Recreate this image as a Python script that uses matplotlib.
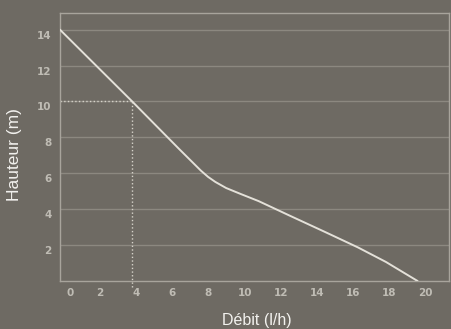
import matplotlib
matplotlib.use('Agg')
import matplotlib.pyplot as plt
from matplotlib.transforms import ScaledTranslation

# pump curve
debit = [0, 4, 6.6, 7.3, 7.8, 8.2, 8.6, 9.2, 10.0, 11.0, 12.7, 14.7, 16.5, 18.05, 19.8]
hauteur = [14, 10, 7.35, 6.65, 6.15, 5.8, 5.52, 5.18, 4.85, 4.45, 3.65, 2.72, 1.87, 1.06, 0]
xticks = [0, 2, 4, 6, 8, 10, 12, 14, 16, 18, 20]
yticks = [2, 4, 6, 8, 10, 12, 14]
point_x = 4
point_y = 10

bg = '#6e6a63'
fig = plt.figure(figsize=(4.52, 3.29), dpi=100, facecolor=bg)
ax = fig.add_axes([60/452, 1-281/329, (449-60)/452, (281-13)/329])
ax.set_facecolor(bg)

ax.set_xlim(0, 21.54)
ax.set_ylim(0, 14.93)

for y in yticks:
    ax.axhline(y, color='#8c8880', lw=1.0, zorder=1)

ax.plot(debit, hauteur, color='#e4e1d9', lw=1.4, zorder=3, solid_capstyle='round',
        solid_joinstyle='round')

# operating point guides
ax.plot([0, point_x], [point_y, point_y], color='#d6d3ca', lw=1.0, ls=':', zorder=2)
ax.plot([point_x, point_x], [-0.35, point_y], color='#d6d3ca', lw=1.0, ls=':',
        zorder=2, clip_on=False)

for s in ax.spines.values():
    s.set_color('#a8a49c')
    s.set_linewidth(1.0)

ax.set_xticks(xticks)
ax.set_yticks(yticks)
ax.tick_params(length=0, colors='#bfbcb4', labelsize=7.5)
ax.tick_params(axis='x', pad=5)
ax.tick_params(axis='y', pad=6)

for lab in ax.get_xticklabels():
    shift = 10 if lab.get_text() == '0' else 4
    dx = ScaledTranslation(shift/100, 0, fig.dpi_scale_trans)
    lab.set_transform(lab.get_transform() + dx)
    lab.set_fontweight('bold')
dy = ScaledTranslation(0, -5/100, fig.dpi_scale_trans)
for lab in ax.get_yticklabels():
    lab.set_transform(lab.get_transform() + dy)
    lab.set_fontweight('bold')

fig.text(257/452, 1-320/329, 'Débit (l/h)', color='#f2f1ee', fontsize=11.5,
         family=['Liberation Sans', 'DejaVu Sans'], ha='center', va='center')
fig.text(15/452, 1-155/329, 'Hauteur (m)', color='#f2f1ee', fontsize=12.5,
         family=['Liberation Sans', 'DejaVu Sans'], ha='center', va='center',
         rotation=90)

fig.savefig('out.png', dpi=100, facecolor=bg)
